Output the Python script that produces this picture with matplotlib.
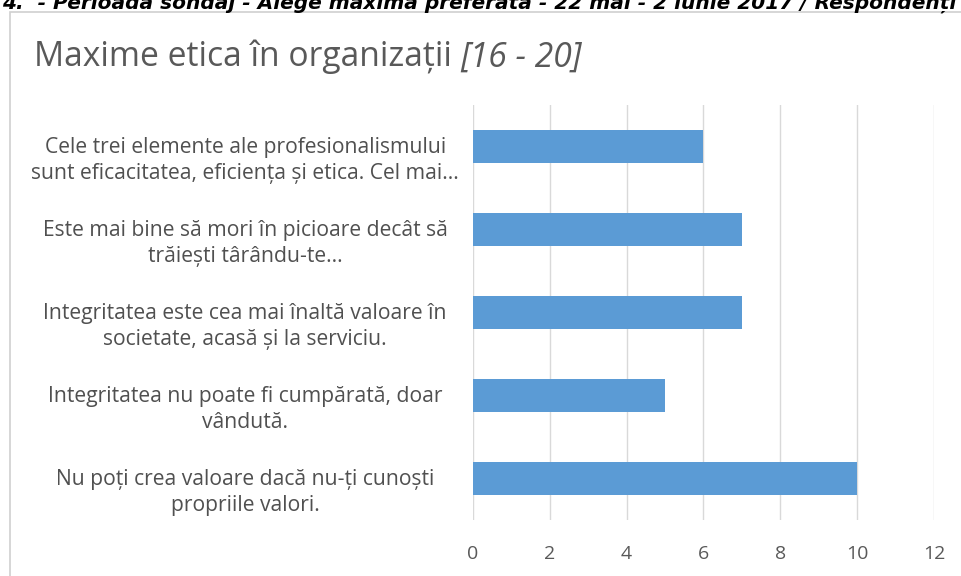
import matplotlib.pyplot as plt
from matplotlib.patches import Rectangle

categories = [
    "Cele trei elemente ale profesionalismului\nsunt eficacitatea, eficiența și etica. Cel mai...",
    "Este mai bine să mori în picioare decât să\ntrăiești târându-te...",
    "Integritatea este cea mai înaltă valoare în\nsocietate, acasă și la serviciu.",
    "Integritatea nu poate fi cumpărată, doar\nvândută.",
    "Nu poți crea valoare dacă nu-ți cunoști\npropriile valori.",
]
values = [6, 7, 7, 5, 10]
xticks = [0, 2, 4, 6, 8, 10, 12]

plt.rcParams['font.family'] = ['Open Sans', 'DejaVu Sans']

fig = plt.figure(figsize=(9.62, 5.76), dpi=100)
W, H = 962, 576

# chart frame (cut off at right/bottom like the screenshot)
fig.patches.append(Rectangle((10 / W, -0.1), 1.2, 1 - 12 / H + 0.1,
                             transform=fig.transFigure, fill=False,
                             edgecolor='#d0d0d0', linewidth=1.2))

# header line cut off at the top of the screenshot
fig.text(2 / W, 1 - 9 / H,
         "4.  - Perioada sondaj - Alege maxima preferata - 22 mai - 2 iunie 2017 / Respondenți",
         fontsize=14.5, fontstyle='italic', fontweight='bold', color='black',
         family='DejaVu Sans', va='baseline', ha='left')

ax = fig.add_axes([473 / W, 1 - 520 / H, (934 - 473) / W, (520 - 105) / H])
y = list(range(len(categories)))
ax.barh(y, values, height=0.4, color='#5b9bd5')
ax.set_ylim(len(categories) - 0.5, -0.5)
ax.set_xlim(0, 12)
ax.set_xticks(xticks)
# labels sit a little below the bar centres in the original
ax.set_yticks([i + 0.11 for i in y])
ax.set_yticklabels(categories, fontsize=15.2, color='#505050', linespacing=1.3,
                   ha='center')
ax.tick_params(axis='y', length=0, pad=164)
ax.tick_params(axis='x', length=0, pad=18, labelsize=14, labelcolor='#595959')
ax.grid(axis='x', color='#d9d9d9', linewidth=1)
ax.set_axisbelow(True)
for s in ax.spines.values():
    s.set_visible(False)

t = fig.text(34 / W, 1 - 57 / H, "Maxime etica în organizații ", fontsize=24.2,
             color='#595959', va='center', ha='left')
ax.annotate("[16 - 20]", xy=(1, 0), xycoords=t, va='bottom', ha='left',
            fontsize=24.2, color='#595959', fontstyle='italic',
            annotation_clip=False)

fig.savefig('out.png', dpi=100)
